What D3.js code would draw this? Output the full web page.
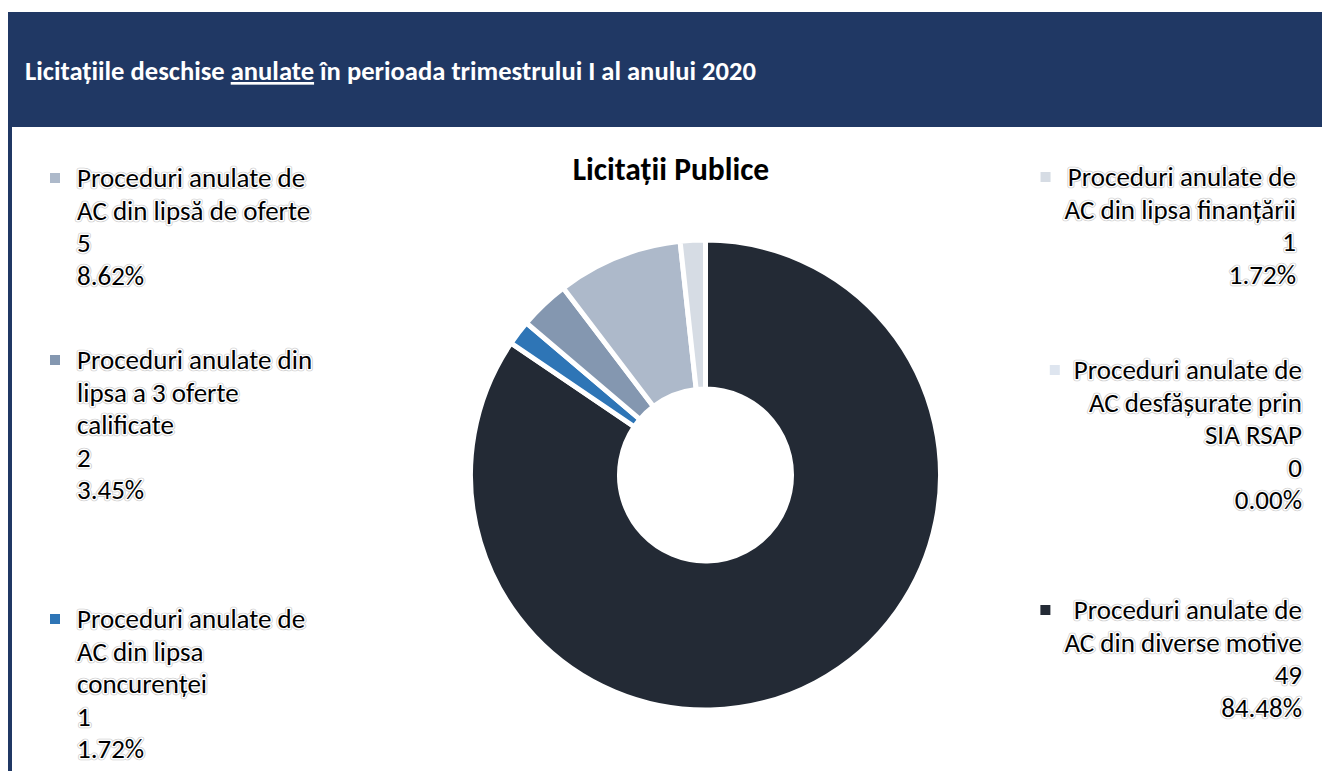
<!DOCTYPE html>
<html lang="ro">
<head>
  <meta charset="UTF-8">
  <title>Licitaţii Publice</title>
  <script src="https://d3js.org/d3.v7.min.js"></script>
  <style>
    body { margin: 0; background: #fff; }
    svg { display: block; }
    text { font-family: Calibri, Carlito, Lato, sans-serif; }
  </style>
</head>
<body>
  <div id="chart"></div>
  <script>
    // Data (plot order, clockwise from 12 o'clock)
    var categories = [
      "Proceduri anulate de\nAC din diverse motive",
      "Proceduri anulate de\nAC din lipsa\nconcurenţei",
      "Proceduri anulate din\nlipsa a 3 oferte\ncalificate",
      "Proceduri anulate de\nAC din lipsă de oferte",
      "Proceduri anulate de\nAC din lipsa finanțării",
      "Proceduri anulate de\nAC desfășurate prin\nSIA RSAP"
    ];
    var values = [49, 1, 2, 5, 1, 0];
    var colors = ["#232a35", "#2e75b6", "#8497b0", "#adb9ca", "#d6dce4", "#dee5ef"];

    var W = 1322, H = 771;
    var total = d3.sum(values);

    var svg = d3.select("#chart").append("svg")
      .attr("width", W)
      .attr("height", H);

    // Header band + left frame border
    svg.append("rect").attr("x", 8).attr("y", 12).attr("width", W - 8).attr("height", 115).attr("fill", "#203864");
    svg.append("rect").attr("x", 8).attr("y", 12).attr("width", 4).attr("height", H - 12).attr("fill", "#203864");

    var header = svg.append("text")
      .attr("x", 25)
      .attr("y", 80)
      .attr("fill", "#fff")
      .style("font-size", "26.6px")
      .style("font-weight", "bold");
    header.append("tspan").text("Licitațiile deschise ");
    header.append("tspan").style("text-decoration", "underline").text("anulate");
    header.append("tspan").text(" în perioada trimestrului I al anului 2020");

    // Chart title
    svg.append("text")
      .attr("x", 671)
      .attr("y", 180)
      .attr("text-anchor", "middle")
      .style("font-size", "31.5px")
      .style("font-weight", "bold")
      .attr("fill", "#000")
      .text("Licitaţii Publice");

    // Donut
    var cx = 705.5, cy = 475;
    var pie = d3.pie().sort(null).value(function(d) { return d; });
    var arc = d3.arc().innerRadius(86).outerRadius(235);

    svg.append("g")
      .attr("transform", "translate(" + cx + "," + cy + ")")
      .selectAll("path")
      .data(pie(values))
      .enter()
      .append("path")
        .attr("d", arc)
        .attr("fill", function(d, i) { return colors[i]; })
        .attr("stroke", "#fff")
        .attr("stroke-width", 5);

    // Legend layout (one block per category, same order as data)
    var lineH = 32.6;
    var layout = [
      {x: 1302, y: 619, anchor: "end"},
      {x: 77, y: 628, anchor: "start"},
      {x: 77, y: 369, anchor: "start"},
      {x: 77, y: 187, anchor: "start"},
      {x: 1296, y: 186, anchor: "end"},
      {x: 1302, y: 379, anchor: "end"}
    ];

    // black text with a soft white/grey halo, like the source
    function haloText(g, x, y, anchor, str) {
      var layers = [
        {stroke: "#cfcfcf", w: 4.5},
        {stroke: "#ffffff", w: 2.8},
        {stroke: "none", w: 0}
      ];
      var top;
      layers.forEach(function(l) {
        top = g.append("text")
          .attr("x", x)
          .attr("y", y)
          .attr("text-anchor", anchor)
          .style("font-size", "27px")
          .attr("fill", l.stroke === "none" ? "#000" : l.stroke)
          .attr("stroke", l.stroke)
          .attr("stroke-width", l.w)
          .attr("stroke-linejoin", "round")
          .text(str);
      });
      return top.node();
    }

    var legend = svg.append("g");
    categories.forEach(function(c, i) {
      var L = layout[i];
      var pct = (values[i] / total * 100).toFixed(2) + "%";
      var lines = c.split("\n").concat([String(values[i]), pct]);
      var nodes = lines.map(function(s, k) {
        return haloText(legend, L.x, L.y + k * lineH, L.anchor, s);
      });
      var mx = 50;
      if (L.anchor === "end") {
        // marker sits left of the widest line in the block
        mx = d3.min(nodes, function(n) { return n.getBBox().x; }) - 24;
      }
      legend.append("rect")
        .attr("x", mx)
        .attr("y", L.y - 14)
        .attr("width", 10)
        .attr("height", 10)
        .attr("fill", colors[i]);
    });
  </script>
</body>
</html>
